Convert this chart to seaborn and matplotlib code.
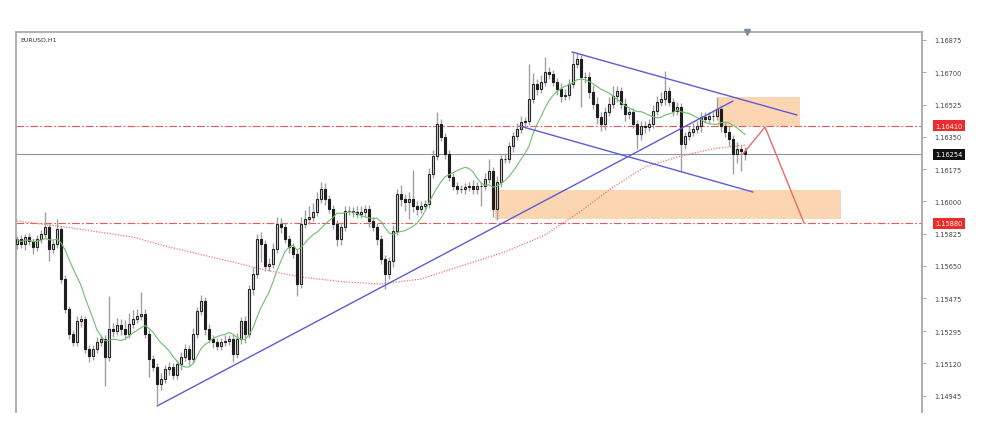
import numpy as np
import pandas as pd
import matplotlib
matplotlib.use("Agg")
import matplotlib.pyplot as plt
import matplotlib.transforms as mtransforms
from matplotlib.patches import Rectangle
import seaborn as sns

# ---------------- data ----------------
symbol_label = "EURUSD,H1"

close = [
    1.15795, 1.15768, 1.15806, 1.15784, 1.15752, 1.15795, 1.15822, 1.15860, 1.15741, 1.15768,
    1.15850, 1.15578, 1.15415, 1.15280, 1.15236, 1.15350, 1.15361, 1.15198, 1.15160, 1.15198,
    1.15236, 1.15253, 1.15155, 1.15307, 1.15296, 1.15329, 1.15307, 1.15280, 1.15334, 1.15361,
    1.15378, 1.15388, 1.15280, 1.15144, 1.15101, 1.15008, 1.15036, 1.15090, 1.15101, 1.15057,
    1.15117, 1.15155, 1.15198, 1.15144, 1.15280, 1.15405, 1.15459, 1.15307, 1.15253, 1.15236,
    1.15215, 1.15236, 1.15242, 1.15253, 1.15171, 1.15253, 1.15350, 1.15280, 1.15524, 1.15606,
    1.15795, 1.15768, 1.15649, 1.15660, 1.15741, 1.15877, 1.15860, 1.15795, 1.15752, 1.15714,
    1.15551, 1.15877, 1.15904, 1.15915, 1.15942, 1.16012, 1.16067, 1.16012, 1.15958, 1.15877,
    1.15795, 1.15860, 1.15947, 1.15947, 1.15942, 1.15931, 1.15942, 1.15958, 1.15893, 1.15860,
    1.15795, 1.15687, 1.15606, 1.15676, 1.15839, 1.16039, 1.16012, 1.15996, 1.16012, 1.15974,
    1.15958, 1.15974, 1.15985, 1.16148, 1.16246, 1.16419, 1.16349, 1.16257, 1.16132, 1.16083,
    1.16067, 1.16067, 1.16077, 1.16083, 1.16067, 1.16083, 1.16083, 1.16121, 1.16164, 1.15958,
    1.16105, 1.16229, 1.16229, 1.16300, 1.16354, 1.16392, 1.16430, 1.16436, 1.16555, 1.16636,
    1.16609, 1.16647, 1.16701, 1.16691, 1.16647, 1.16609, 1.16571, 1.16577, 1.16636, 1.16745,
    1.16772, 1.16674, 1.16674, 1.16593, 1.16528, 1.16457, 1.16419, 1.16484, 1.16528, 1.16571,
    1.16598, 1.16528, 1.16474, 1.16484, 1.16419, 1.16365, 1.16408, 1.16403, 1.16419, 1.16490,
    1.16539, 1.16555, 1.16598, 1.16539, 1.16490, 1.16511, 1.16311, 1.16354, 1.16376, 1.16392,
    1.16408, 1.16457, 1.16446, 1.16463, 1.16463, 1.16501, 1.16408, 1.16376, 1.16338, 1.16257,
    1.16284, 1.16273, 1.16254,
]
open_first = 1.15770

# wick lengths beyond the body, in pips
wick_hi = [
    1.5, 2, 1.5, 2, 1.5, 2, 2, 8, 1.5, 2,
    5.5, 1.5, 2, 1.5, 2, 2.5, 2, 1.5, 2, 2,
    2.5, 2, 2, 18, 3, 4, 3, 5, 6, 5,
    4, 12, 3, 2, 2, 2, 3, 2, 2.5, 2,
    2, 2.5, 3, 2, 3, 2, 3, 2, 2.5, 2,
    2, 2, 3, 2, 2.5, 3, 2, 3, 2, 4,
    3, 4, 2, 3, 3, 4, 3, 2, 2, 2,
    2, 4, 5, 6, 5, 4, 4, 3, 2, 2,
    2, 3, 3, 3, 2, 3, 3, 2, 2, 2,
    2, 2, 2, 2, 3, 3, 5, 3, 4, 16,
    3, 3, 2, 3, 3, 6.5, 3, 2, 2, 2,
    2, 2, 2, 2, 3, 2, 2, 3, 6.5, 2,
    3, 2, 3, 2, 2, 3, 3, 2, 19, 6,
    3, 4, 8, 3, 2, 2, 3, 3, 3, 6.5,
    3, 2, 3, 3, 4, 4, 3, 3, 4, 5.5,
    3, 2, 3, 2, 2, 2, 3, 3, 3, 3,
    3, 4, 11, 2, 2, 3, 2, 2, 3, 3,
    3, 3, 3, 2, 3, 6.5, 2, 2, 3, 2,
    4, 2, 2,
]
wick_lo = [
    3, 2, 3, 2, 4, 2, 2, 2, 6.5, 2,
    2, 2, 2, 3, 2, 2, 3, 2, 3, 2,
    2, 2, 16, 2, 3, 2, 3, 3, 2, 2,
    2, 2, 2, 10, 2, 11, 3, 2, 3, 2,
    2, 3, 2, 3, 2, 2, 2, 3, 2, 3,
    2, 2, 2, 2, 4.5, 2, 3, 5, 2, 3,
    2, 10, 3, 3, 2, 2, 3, 2, 3, 2,
    6.5, 2, 2, 3, 2, 2, 2, 3, 2, 3,
    4, 3, 2, 2, 3, 2, 2, 3, 3, 2,
    3, 3, 8, 3, 3, 2, 4, 5, 9, 3,
    3, 2, 2, 2, 2, 2, 2, 3, 2, 2,
    3, 2, 3, 2, 3, 3, 11, 2, 2, 4.5,
    6, 3, 2, 2, 3, 2, 2, 3, 2, 2,
    3, 2, 2, 3, 2, 3, 3, 2, 2, 2,
    2, 16, 3, 3, 3, 4, 4, 3, 2, 2,
    3, 3, 4, 3, 2, 8, 3, 3, 2, 2,
    2, 2, 3, 2, 3, 2, 15, 3, 2, 2,
    2, 3, 2, 2, 3, 2, 3, 3, 4, 11,
    5, 11, 3,
]

fast_ma_period = 10

# slow moving average, read at selected bar numbers
slow_ma_bar = [0, 12, 29, 37, 54, 62, 71, 82, 91, 101, 111, 122, 132, 141, 149, 157, 166, 174, 182]
slow_ma_val = [1.15893, 1.15860, 1.15806, 1.15757, 1.15670, 1.15627, 1.15589, 1.15562, 1.15551,
               1.15578, 1.15649, 1.15725, 1.15817, 1.15947, 1.16077, 1.16186, 1.16246, 1.16284, 1.16305]

# price levels and labels
level_resist = 1.16410
level_support = 1.15880
level_current = 1.16254
axis_ticks = [1.16875, 1.16700, 1.16525, 1.16350, 1.16175, 1.16000, 1.15825,
              1.15650, 1.15475, 1.15295, 1.15120, 1.14945]

# drawn objects (bar number, price)
trend_bar = [35, 179]
trend_price = [1.14889, 1.16544]
chan_top_bar = [138.75, 195]
chan_top_price = [1.16810, 1.16468]
chan_bot_bar = [125.75, 184]
chan_bot_price = [1.16408, 1.16050]
proj_bar = [181.5, 187, 196.75]
proj_price = [1.16257, 1.16403, 1.15882]
zone_up_bar = [175.25, 195.75]
zone_up_price = [1.16410, 1.16566]
zone_dn_bar = [119.5, 206]
zone_dn_price = [1.15904, 1.16061]

# ---------------- drawing ----------------
sns.set_style("white")
plt.rcParams['font.family'] = ['DejaVu Sans']

close_a = np.array(close)
open_a = np.concatenate([[open_first], close_a[:-1]])
bar = np.arange(len(close_a))
top = np.maximum(open_a, close_a)
bot = np.minimum(open_a, close_a)
high = top + np.array(wick_hi) * 1e-4
low = bot - np.array(wick_lo) * 1e-4

fig = plt.figure(figsize=(10, 4.35), dpi=100)
ax = fig.add_axes([0.016, 1 - 413 / 435, 0.906, 380 / 435])

x_left = -0.25
ax.set_xlim(x_left, x_left + 906 / 4)
ax.set_ylim(1.148566, 1.169184)

zone_col = "#fcd6b2"
for bx, py in ((zone_up_bar, zone_up_price), (zone_dn_bar, zone_dn_price)):
    ax.add_patch(Rectangle((bx[0], py[0]), bx[1] - bx[0], py[1] - py[0],
                           facecolor=zone_col, edgecolor="none", zorder=1))

dash = (0, (7, 2, 1.5, 2))
for lv in (level_resist, level_support):
    ax.axhline(lv, color="#e45a5a", lw=0.8, linestyle=dash, zorder=2)
ax.axhline(level_current, color="#8a94a8", lw=0.8, zorder=2)

# slow MA (dotted red)
sns.lineplot(x=slow_ma_bar, y=slow_ma_val, ax=ax, color="#e87a7a", lw=0.9,
             linestyle=(0, (1, 1.2)), zorder=2, legend=False)

# candles
ax.vlines(bar, low, high, color="#a0a0a0", lw=1.0, zorder=3)
up = close_a >= open_a
ax.bar(bar[up], (top - bot)[up] + 1.2e-5, bottom=bot[up], width=0.72,
       color="#d8d8d8", edgecolor="#262626", linewidth=0.8, zorder=4)
ax.bar(bar[~up], (top - bot)[~up] + 1.2e-5, bottom=bot[~up], width=0.72,
       color="#1e1e1e", edgecolor="#1e1e1e", linewidth=0.8, zorder=4)

# fast MA (green)
fast = pd.Series(close_a).rolling(fast_ma_period, min_periods=1).mean()
sns.lineplot(x=bar, y=fast.values, ax=ax, color="#6fbf6f", lw=0.8, zorder=5, legend=False)

# trend / channel lines
blue = "#5c5cd4"
ax.plot(trend_bar, trend_price, color=blue, lw=1.0, zorder=6)
ax.plot(chan_top_bar, chan_top_price, color=blue, lw=1.0, zorder=6)
ax.plot(chan_bot_bar, chan_bot_price, color=blue, lw=1.0, zorder=6)
ax.plot(proj_bar, proj_price, color="#e86a6a", lw=1.0, zorder=6)

# axes styling
for s in ("left", "top", "right"):
    ax.spines[s].set_color("#a8a8a8")
    ax.spines[s].set_linewidth(1.3)
ax.spines["bottom"].set_visible(False)
ax.set_xticks([])
ax.yaxis.tick_right()
ax.set_yticks(axis_ticks)
ax.set_yticklabels([f"{t:.5f}" for t in axis_ticks])
ax.tick_params(axis="y", right=True, left=False, length=3, width=0.7,
               color="#a8a8a8", labelsize=4.8, labelcolor="#444444", pad=6)
ax.set_xlabel("")
ax.set_ylabel("")

trans = mtransforms.blended_transform_factory(ax.transAxes, ax.transData)
for lv, fc in ((level_resist, "#ee2a2a"), (level_current, "#111111"), (level_support, "#ee2a2a")):
    ax.text(1.0 + 13 / 906, lv, f"{lv:.5f}", transform=trans, fontsize=4.8, color="white",
            va="center", ha="left", zorder=10, clip_on=False,
            bbox=dict(boxstyle="square,pad=0.35", fc=fc, ec="none"))

ax.text(4 / 906, 1 - 7 / 380, symbol_label, transform=ax.transAxes, fontsize=4.5,
        color="#333333", va="center", ha="left")

# chart-shift marker
ax.plot([182.5], [1.169184], marker="v", color="#7e8ca2", markersize=4,
        clip_on=False, zorder=10)

fig.savefig("out.png", dpi=100)
